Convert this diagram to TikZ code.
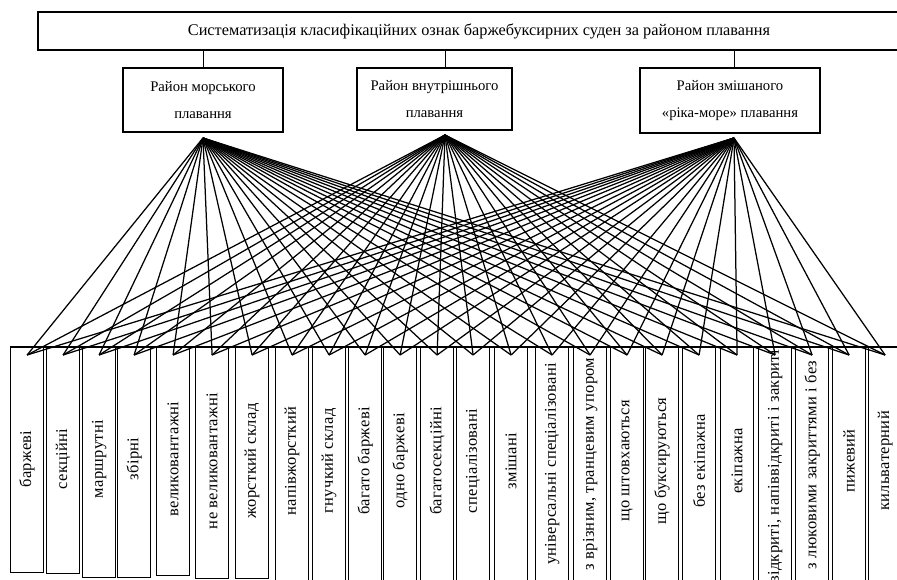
\documentclass[tikz,border=0pt]{standalone}
\usepackage{fontspec}
\setmainfont{Liberation Serif}
\usepackage{tikz}

\begin{document}
\begin{tikzpicture}[x=1pt,y=-1pt]
\tikzstyle{titlebox}=[draw, line width=1.3pt, inner sep=0pt, minimum width=882pt, minimum height=38pt, font=\fontsize{16.3}{18}\selectfont]
\tikzstyle{regbox}=[draw, line width=1.3pt, inner sep=0pt, align=center, font=\fontsize{14.7}{27}\selectfont]
\tikzstyle{featbox}=[draw, line width=1.2pt, inner sep=0pt, anchor=north west, minimum width=33pt, minimum height=250pt]
\tikzstyle{featlabel}=[rotate=90, inner sep=0pt, font=\fontsize{16.5}{18}\selectfont\addfontfeatures{LetterSpace=2}]
\tikzstyle{fan}=[line width=1.25pt]

\clip (0,0) rectangle (897,580);

% top level
\node[titlebox](title) at (479,31){Систематизація класифікаційних ознак баржебуксирних суден за районом плавання};

\node[regbox, minimum width=160pt, minimum height=64pt](reg1) at (203,100){Район морського\\плавання};
\node[regbox, minimum width=155pt, minimum height=62pt](reg2) at (434.5,99){Район внутрішнього\\плавання};
\node[regbox, minimum width=180pt, minimum height=65pt](reg3) at (730,100.5){Район змішаного\\«ріка-море» плавання};

\coordinate (a1) at (203,138);
\coordinate (a2) at (445,135);
\coordinate (a3) at (734,138);

\draw [line width=1pt] (title.south -| a1) to (reg1.north -| a1);
\draw [line width=1pt] (title.south -| a2) to (reg2.north -| a2);
\draw [line width=1pt] (title.south -| a3) to (reg3.north -| a3);

% features
\node[featbox, minimum height=225pt](b1) at (10,347){};
\node[featbox, minimum height=226pt](b2) at (46,347){};
\node[featbox, minimum height=230pt](b3) at (82,347){};
\node[featbox, minimum height=230pt](b4) at (117,347){};
\node[featbox, minimum height=228pt](b5) at (156,347){};
\node[featbox, minimum height=231pt](b6) at (195,347){};
\node[featbox, minimum height=231pt](b7) at (235,347){};
\node[featbox, minimum height=233pt](b8) at (275,347){};
\node[featbox](b9) at (312,347){};
\node[featbox](b10) at (348,347){};
\node[featbox](b11) at (383,347){};
\node[featbox](b12) at (420,347){};
\node[featbox](b13) at (456,347){};
\node[featbox](b14) at (494,347){};
\node[featbox](b15) at (535,347){};
\node[featbox](b16) at (573,347){};
\node[featbox](b17) at (610,347){};
\node[featbox](b18) at (645,347){};
\node[featbox](b19) at (682,347){};
\node[featbox](b20) at (720,347){};
\node[featbox](b21) at (758,347){};
\node[featbox](b22) at (795,347){};
\node[featbox](b23) at (832,347){};
\node[featbox](b24) at (868,347){};

\node[featlabel](l1) at ([yshift=-112pt]b1.north){баржеві};
\node[featlabel](l2) at ([yshift=-112pt]b2.north){секційні};
\node[featlabel](l3) at ([yshift=-112pt]b3.north){маршрутні};
\node[featlabel](l4) at ([yshift=-112pt]b4.north){збірні};
\node[featlabel](l5) at ([yshift=-112pt]b5.north){великовантажні};
\node[featlabel](l6) at ([yshift=-114pt]b6.north){не великовантажні};
\node[featlabel](l7) at ([yshift=-114pt]b7.north){жорсткий склад};
\node[featlabel](l8) at ([yshift=-114pt]b8.north){напівжорсткий};
\node[featlabel](l9) at ([yshift=-114pt]b9.north){гнучкий склад};
\node[featlabel](l10) at ([yshift=-114pt]b10.north){багато баржеві};
\node[featlabel](l11) at ([yshift=-114pt]b11.north){одно баржеві};
\node[featlabel](l12) at ([yshift=-114pt]b12.north){багатосекційні};
\node[featlabel](l13) at ([yshift=-114pt]b13.north){спеціалізовані};
\node[featlabel](l14) at ([yshift=-114pt]b14.north){змішані};
\node[featlabel](l15) at ([yshift=-117pt]b15.north){універсальні спеціалізовані};
\node[featlabel](l16) at ([yshift=-117pt]b16.north){з врізним, транцевим упором};
\node[featlabel](l17) at ([yshift=-114pt]b17.north){що штовхаються};
\node[featlabel](l18) at ([yshift=-114pt]b18.north){що буксируються};
\node[featlabel](l19) at ([yshift=-114pt]b19.north){без екіпажна};
\node[featlabel](l20) at ([yshift=-114pt]b20.north){екіпажна};
\node[featlabel](l22) at ([yshift=-118pt]b22.north){з люковими закриттями і без};
\node[featlabel](l23) at ([yshift=-114pt]b23.north){пижевий};
\node[featlabel](l24) at ([yshift=-114pt]b24.north){кильватерний};
% too long for its box
\begin{scope}
\clip (b21.north west) rectangle (b21.south east);
\node[featlabel](l21) at ([yshift=-120pt]b21.north){відкриті, напіввідкриті і закриті};
\end{scope}

\draw [line width=1.2pt] (b1.north west) to (b24.north east);

\foreach \i in {1,...,24}{
  \draw [fan] (a1) to ([yshift=-8pt]b\i.north);
  \draw [fan] (a2) to ([yshift=-8pt]b\i.north);
  \draw [fan] (a3) to ([yshift=-8pt]b\i.north);
}
\end{tikzpicture}
\end{document}
